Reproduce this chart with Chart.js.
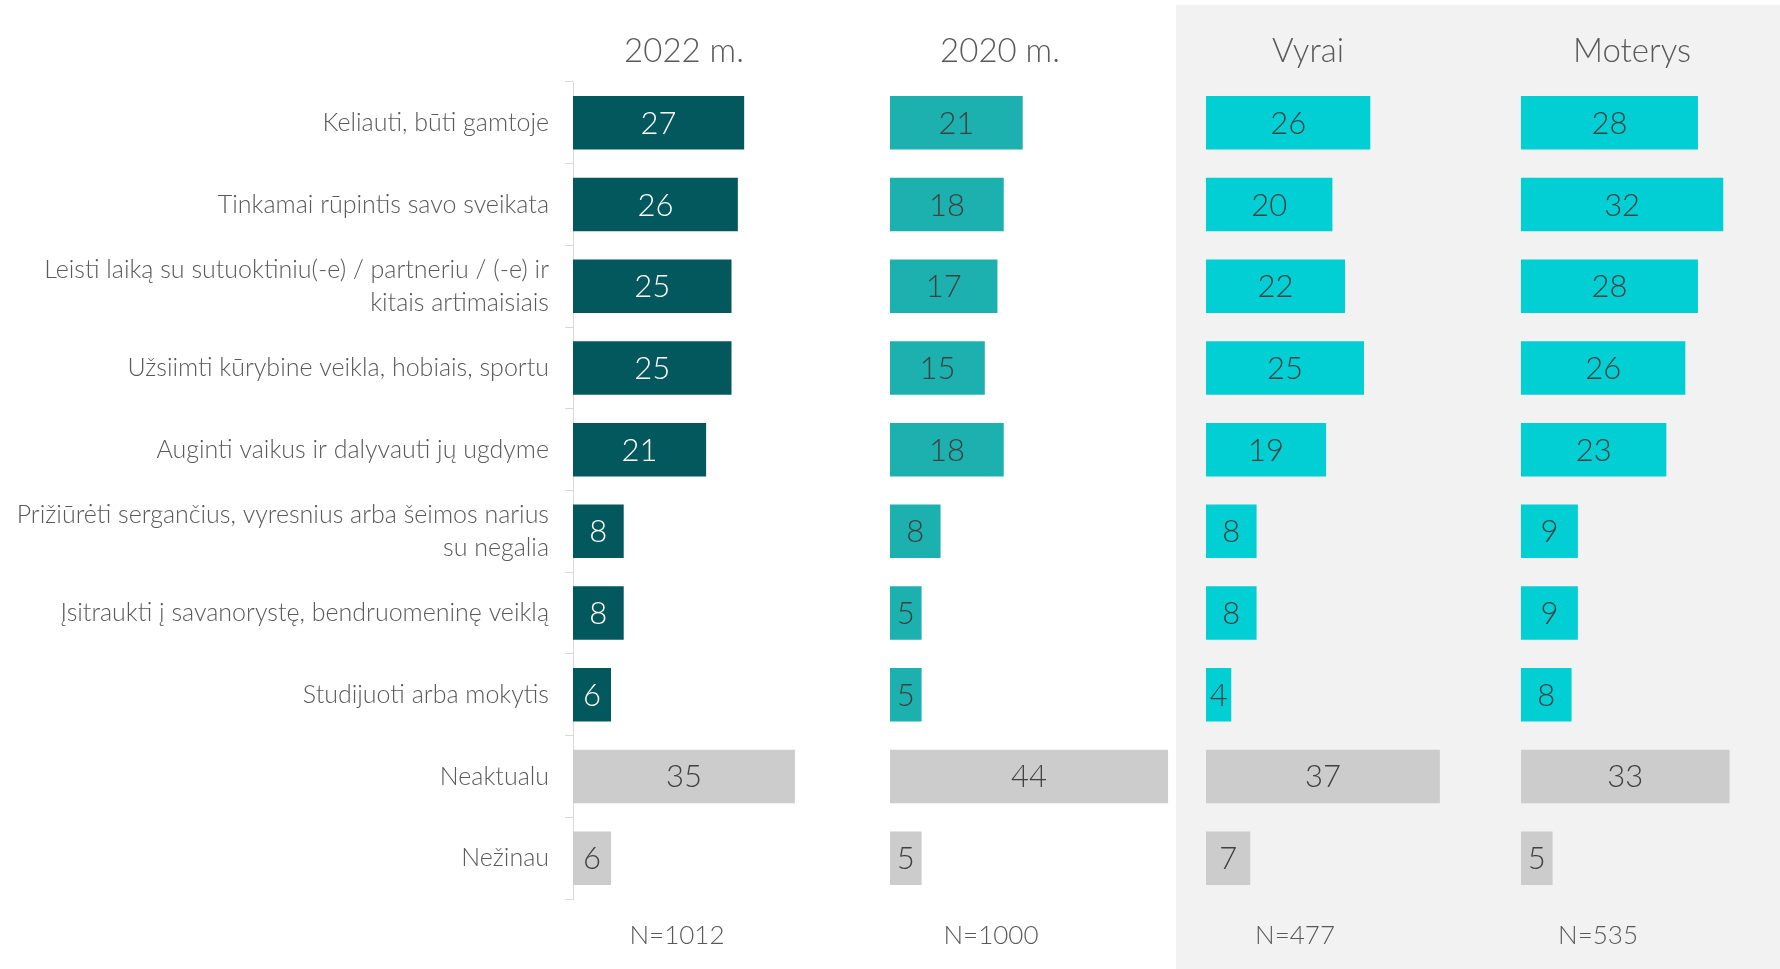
<!DOCTYPE html>
<html>
<head>
<meta charset="utf-8">
<script src="https://cdn.jsdelivr.net/npm/chart.js@4"></script>
<style>
  html, body { margin: 0; padding: 0; background: #fff; overflow: hidden; }
  body { width: 1780px; height: 969px; position: relative; font-family: Lato, "Open Sans", sans-serif; font-weight: 300; color: #595959; }
  #shade { position: absolute; left: 1176px; top: 5px; width: 604px; height: 964px; background: #f2f2f2; }
  canvas { position: absolute; top: 0; }
  .head, .foot { position: absolute; transform: translate(-50%, -50%); white-space: nowrap; }
  .head { top: 49px; font-size: 33px; }
  .foot { top: 934px; font-size: 26px; }
</style>
</head>
<body>
<div id="shade"></div>
<canvas id="c0" width="890" height="969" style="left:0px"></canvas>
<canvas id="c1" width="316" height="969" style="left:890px"></canvas>
<canvas id="c2" width="316" height="969" style="left:1206px"></canvas>
<canvas id="c3" width="316" height="969" style="left:1521px"></canvas>
<script>
//=[ Data ]=====================================================================

const categories = [
  "Keliauti, būti gamtoje",
  "Tinkamai rūpintis savo sveikata",
  ["Leisti laiką su sutuoktiniu(-e) / partneriu / (-e) ir", "kitais artimaisiais"],
  "Užsiimti kūrybine veikla, hobiais, sportu",
  "Auginti vaikus ir dalyvauti jų ugdyme",
  ["Prižiūrėti sergančius, vyresnius arba šeimos narius", "su negalia"],
  "Įsitraukti į savanorystę, bendruomeninę veiklą",
  "Studijuoti arba mokytis",
  "Neaktualu",
  "Nežinau",
];

const values2022 = [27, 26, 25, 25, 21, 8, 8, 6, 35, 6];
const values2020 = [21, 18, 17, 15, 18, 8, 5, 5, 44, 5];
const valuesVyrai = [26, 20, 22, 25, 19, 8, 8, 4, 37, 7];
const valuesMoterys = [28, 32, 28, 26, 23, 9, 9, 8, 33, 5];

const panelTitles = ["2022 m.", "2020 m.", "Vyrai", "Moterys"];
const sampleSizes = ["N=1012", "N=1000", "N=477", "N=535"];

//=[ Panels ]===================================================================

const grayRows = 2; // last two rows (Neaktualu, Nežinau) are gray
const panels = [
  { id: "c0", data: values2022, color: "#02585c", text: "#ffffff", head: 684, foot: 677 },
  { id: "c1", data: values2020, color: "#1cb1ae", text: "#404040", head: 1000, foot: 991 },
  { id: "c2", data: valuesVyrai, color: "#02cfd4", text: "#404040", head: 1308, foot: 1295 },
  { id: "c3", data: valuesMoterys, color: "#02cfd4", text: "#404040", head: 1632, foot: 1598 },
];

const valueLabels = {
  id: "valueLabels",
  afterDatasetsDraw(chart, args, opts) {
    const ctx = chart.ctx;
    const meta = chart.getDatasetMeta(0);
    const data = chart.data.datasets[0].data;
    ctx.save();
    ctx.font = "300 31px Lato, 'Open Sans', sans-serif";
    ctx.textAlign = "center";
    ctx.textBaseline = "middle";
    meta.data.forEach((bar, i) => {
      const gray = i >= data.length - grayRows;
      ctx.fillStyle = gray ? "#404040" : opts.color;
      ctx.fillText(String(data[i]), (bar.x + bar.base) / 2, bar.y + 1);
    });
    ctx.restore();
  },
};

panels.forEach((p, idx) => {
  const first = idx === 0;
  new Chart(document.getElementById(p.id), {
    type: "bar",
    data: {
      labels: categories,
      datasets: [
        {
          data: p.data,
          backgroundColor: p.data.map((v, i) =>
            i >= p.data.length - grayRows ? "#cccccc" : p.color,
          ),
          categoryPercentage: 1,
          barPercentage: 0.655,
        },
      ],
    },
    options: {
      indexAxis: "y",
      responsive: false,
      animation: false,
      events: [],
      layout: { padding: { top: 82, bottom: 70, left: 0, right: 0 } },
      scales: {
        x: { display: false, min: 0, max: 50 },
        y: {
          display: first,
          afterFit: (scale) => {
            if (first) scale.width = 573;
          },
          border: { display: true, color: "#d9d9d9", width: 1 },
          grid: {
            offset: true,
            drawOnChartArea: false,
            tickLength: 8,
            color: "#d9d9d9",
          },
          ticks: {
            padding: 16,
            color: "#595959",
            font: { family: "Lato, 'Open Sans', sans-serif", size: 25, weight: 300, lineHeight: 1.3 },
          },
        },
      },
      plugins: {
        legend: { display: false },
        tooltip: { enabled: false },
        valueLabels: { color: p.text },
      },
    },
    plugins: [valueLabels],
  });

  const head = document.createElement("div");
  head.className = "head";
  head.style.left = p.head + "px";
  head.textContent = panelTitles[idx];
  document.body.appendChild(head);

  const foot = document.createElement("div");
  foot.className = "foot";
  foot.style.left = p.foot + "px";
  foot.textContent = sampleSizes[idx];
  document.body.appendChild(foot);
});
</script>
</body>
</html>
